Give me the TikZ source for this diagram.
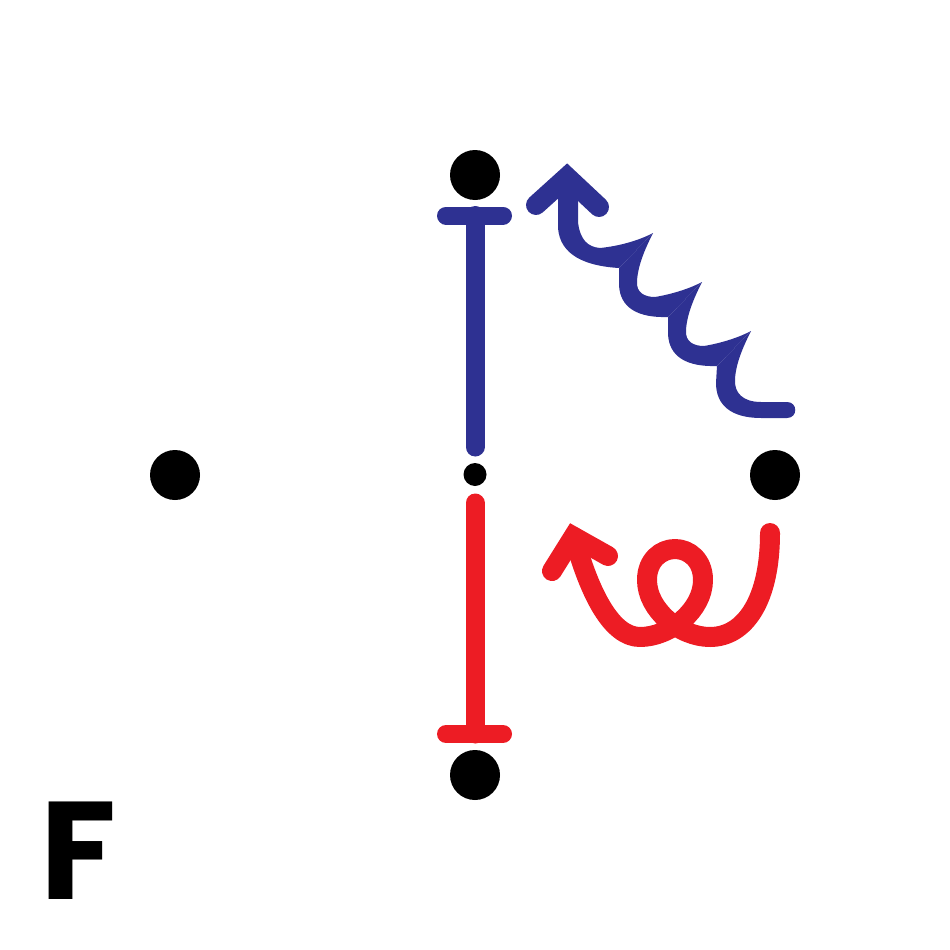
\documentclass[tikz,border=0pt]{standalone}
\usepackage{fontspec}
\setmainfont{Poppins}
\definecolor{cblue}{HTML}{2E3192}
\definecolor{cred}{HTML}{ED1C24}
\begin{document}
\begin{tikzpicture}[x=1pt,y=-1pt,
  dot/.style={circle,fill=black,inner sep=0pt,minimum size=50pt},
  smalldot/.style={circle,fill=black,inner sep=0pt,minimum size=23pt},
  bluestroke/.style={draw=cblue,line width=19pt,line cap=round},
  redstroke/.style={draw=cred,line width=19pt,line cap=round},
  headstyle/.style={line join=miter,line cap=round,line width=20pt}]
\useasboundingbox (0,0) rectangle (950,950);
% dots
\node[dot] (top) at (475,175) {};
\node[dot] (left) at (175,475) {};
\node[dot] (right) at (775,475) {};
\node[dot] (bottom) at (475,775) {};
\node[smalldot] (mid) at (475,474.5) {};
% blue T bar
\coordinate (btl) at (446,215.5);
\coordinate (btr) at (503,215.5);
\coordinate (btm) at (475,215.5);
\coordinate (bend) at (475,447);
\draw[bluestroke] (btm) -- (bend);
\draw[bluestroke,line width=18pt] (btl) -- (btr);
% red T bar
\coordinate (rtl) at (446,734);
\coordinate (rtr) at (503,734);
\coordinate (rtm) at (475,734);
\coordinate (rend) at (475,503);
\draw[redstroke] (rend) -- (rtm);
\draw[redstroke,line width=18pt] (rtl) -- (rtr);
% blue wavy arrow
\fill[cblue] (558,188) -- (558,228) .. controls (560,255) and (585,266) .. (619,268) -- (653,233)
  .. controls (640,240) and (620,246) .. (600,248) .. controls (588,247) and (580,240) .. (578,222) -- (578,188) -- cycle;
\foreach \tx/\ty in {653/233, 702/282} {
  \begin{scope}[shift={(\tx,\ty)}]
    \fill[cblue] (0,0) .. controls (-8,16) and (-15,32) .. (-16,48) .. controls (-17,60) and (-8,64) .. (2,64)
      .. controls (20,61) and (38,55) .. (49,49) -- (15,84) .. controls (-15,85) and (-33,75) .. (-34,52) -- (-34,35) -- cycle;
  \end{scope}
}
\fill[cblue] (751,331) .. controls (743,347) and (736,363) .. (735,379) .. controls (734,393) and (743,402) .. (761,402)
  -- (787,402) .. controls (798,402) and (798,418) .. (787,418) -- (761,418)
  .. controls (731,418) and (716,405) .. (716,383) -- (717,366) -- cycle;
\coordinate (ba1) at (536,205);
\coordinate (ba) at (567,177);
\coordinate (ba2) at (599,207);
\draw[cblue,headstyle] (ba1) -- (ba) -- (ba2);
% red loopy arrow
\coordinate (rs) at (770,533);
\coordinate (re) at (574,537);
\draw[redstroke,line width=20pt,line join=round] (rs) .. controls (770,600) and (745,637) .. (710,637)
  .. controls (680,637) and (647,610) .. (647,580) .. controls (647,560) and (661,549) .. (675,549)
  .. controls (689,549) and (703,560) .. (703,580) .. controls (703,610) and (670,637) .. (640,637)
  .. controls (612,637) and (590,595) .. (re);
\coordinate (ra1) at (552,571);
\coordinate (ra) at (573.5,536.6);
\coordinate (ra2) at (608,556);
\draw[cred,headstyle] (ra1) -- (ra) -- (ra2);
% label
\node[font=\fontsize{139}{139}\selectfont\bfseries,anchor=base west,inner sep=0pt] (F) at (40,899) {F};
\end{tikzpicture}
\end{document}
